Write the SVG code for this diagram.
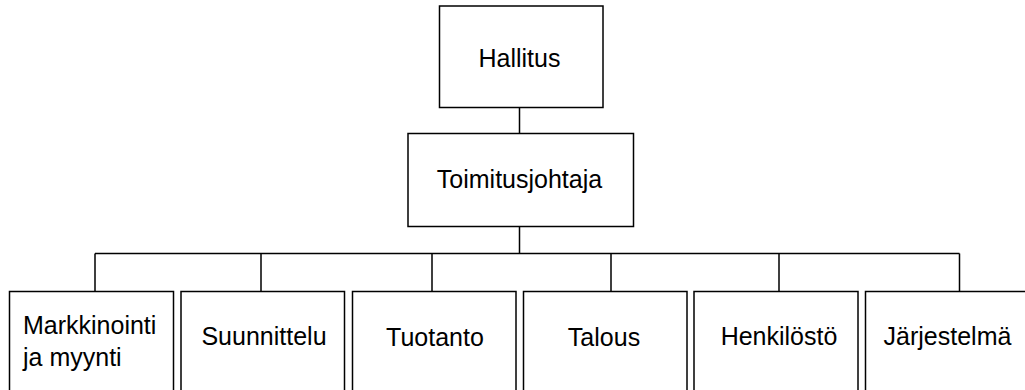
<svg xmlns="http://www.w3.org/2000/svg" width="1025" height="390" viewBox="0 0 1025 390">
<style>
.box{fill:#fff;stroke:#000;stroke-width:1.5}
.ln{fill:none;stroke:#000;stroke-width:1.5}
text{font-family:"Liberation Sans",Arial,sans-serif;font-size:25px;fill:#000}
.c{text-anchor:middle}
</style>
<rect width="1025" height="390" fill="#fff"/>
<g id="connectors">
<path class="ln" d="M519.5 107.5V133.5M519.5 226.5V253.5M95 253.5H959.5M95 253.5V291.5M261 253.5V291.5M432 253.5V291.5M611 253.5V291.5M779 253.5V291.5M959.5 253.5V291.5"/>
</g>
<g id="hallitus"><rect class="box" x="439.5" y="6" width="163.5" height="101.5"/><text class="c" x="519.5" y="67">Hallitus</text></g>
<g id="toimitusjohtaja"><rect class="box" x="408" y="133.5" width="225.5" height="93"/><text class="c" x="519.5" y="188">Toimitusjohtaja</text></g>
<g id="markkinointi"><rect class="box" x="9.5" y="291.5" width="164" height="110"/><text x="23" y="334">Markkinointi</text><text x="23" y="366">ja myynti</text></g>
<g id="suunnittelu"><rect class="box" x="181" y="291.5" width="163.5" height="110"/><text class="c" x="264" y="345">Suunnittelu</text></g>
<g id="tuotanto"><rect class="box" x="352.5" y="291.5" width="163.5" height="110"/><text class="c" x="435" y="345.5">Tuotanto</text></g>
<g id="talous"><rect class="box" x="523.5" y="291.5" width="163.5" height="110"/><text class="c" x="604" y="345.5">Talous</text></g>
<g id="henkilosto"><rect class="box" x="694" y="291.5" width="164" height="110"/><text class="c" x="779" y="345">Henkilöstö</text></g>
<g id="jarjestelma"><rect class="box" x="865.5" y="291.5" width="170" height="110"/><text class="c" x="947.5" y="345">Järjestelmä</text></g>
</svg>
